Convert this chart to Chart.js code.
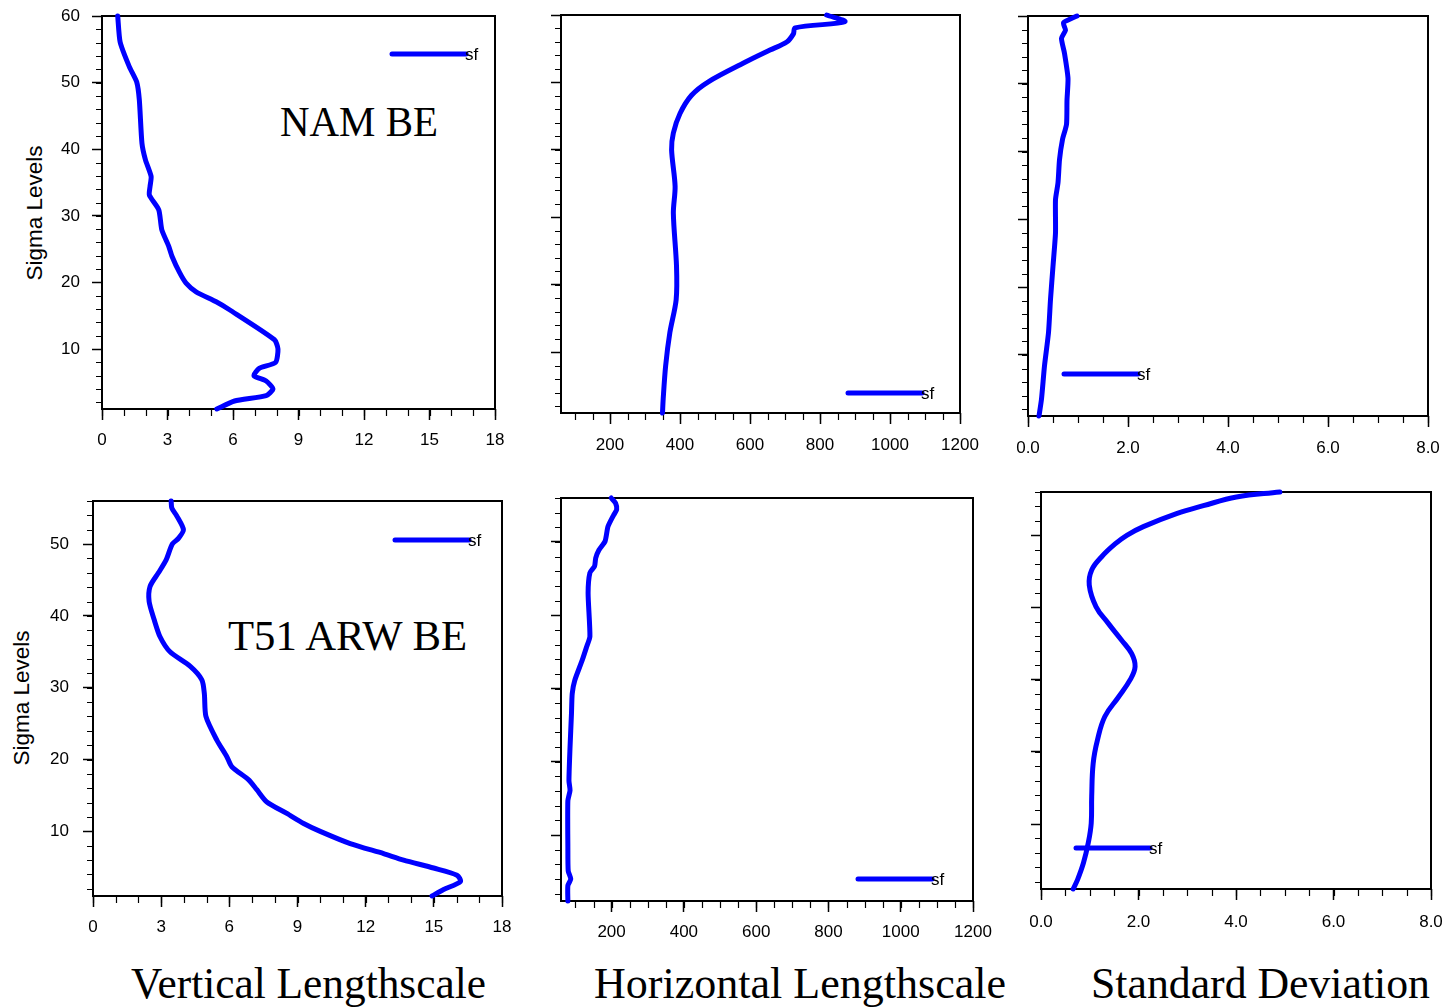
<!DOCTYPE html>
<html>
<head>
<meta charset="utf-8">
<script src="https://cdn.jsdelivr.net/npm/chart.js@4.4.1/dist/chart.umd.min.js"></script>
<style>
  html, body { margin: 0; padding: 0; background: #fff; }
  body { width: 1443px; height: 1008px; position: relative; overflow: hidden; }
  canvas { position: absolute; }
  .lbl { position: absolute; white-space: nowrap; color: #000; }
  .serif { font-family: "Liberation Serif", "DejaVu Serif", serif; line-height: 1; transform-origin: 0 0; }
  .axt { font-family: "Liberation Sans", Arial, sans-serif; font-size: 22.5px; line-height: 1; transform: translate(-50%, -50%) rotate(-90deg); }
</style>
</head>
<body>
<div class="lbl axt" style="left:35px; top:213px;">Sigma Levels</div>
<div class="lbl axt" style="left:22px; top:698px;">Sigma Levels</div>
<div class="lbl serif" id="t1" data-w="158" style="left:280px; top:100px; font-size:43px;">NAM BE</div>
<div class="lbl serif" id="t2" data-w="239" style="left:228px; top:614px; font-size:43px;">T51 ARW BE</div>
<div class="lbl serif" id="t3" data-w="355" style="left:131px; top:961px; font-size:45px;">Vertical Lengthscale</div>
<div class="lbl serif" id="t4" data-w="412" style="left:594px; top:961px; font-size:45px;">Horizontal Lengthscale</div>
<div class="lbl serif" id="t5" data-w="339" style="left:1091px; top:961px; font-size:45px;">Standard Deviation</div>
<script>
// ---------------- DATA ----------------
// NAM BE (top row)
const namVertLevels  = [60, 56.1, 52.4, 50.1, 47.4, 40.9, 38.4, 35.9, 34.4, 33.1, 30.9, 27.9, 25.5, 23.9, 21.5, 19.9, 18.6, 17.1, 15.9, 11.4, 10, 8, 7.1, 6, 5.2, 4, 3, 2.2, 1];
const namVertValues  = [0.72, 0.83, 1.25, 1.59, 1.71, 1.83, 1.99, 2.25, 2.2, 2.17, 2.6, 2.74, 3.05, 3.21, 3.55, 3.85, 4.31, 5.23, 5.84, 7.9, 8.06, 7.95, 7.2, 6.96, 7.52, 7.83, 7.52, 6.07, 5.26];

const namHorLevels   = [60, 59, 58.1, 57.2, 56, 54.8, 53.1, 50.1, 48.1, 45.4, 42.5, 40, 34.6, 30.6, 22.8, 17.8, 12.9, 8, 3.1, 1];
const namHorValues   = [819, 871, 729, 724, 705, 657, 590, 481, 433, 400, 381, 376, 386, 381, 390, 389, 371, 359, 352, 350];

const namStdLevels   = [60, 59, 57.9, 56.7, 54.5, 50.8, 47.6, 44, 41.8, 38.8, 35.4, 32.9, 28, 23.1, 18.2, 13.3, 8.4, 3.5, 1];
const namStdValues   = [0.98, 0.71, 0.75, 0.67, 0.73, 0.8, 0.78, 0.77, 0.69, 0.63, 0.6, 0.55, 0.55, 0.5, 0.45, 0.41, 0.33, 0.27, 0.22];

// T51 ARW BE (bottom row)
const arwVertLevels  = [56, 55, 53.9, 52, 50.8, 50, 47.8, 46, 44.1, 42, 39.5, 37.1, 35, 33, 31.1, 29.2, 26, 22.7, 20.4, 19, 17.2, 15.8, 14.1, 12.5, 11.1, 10, 8.3, 6.9, 6, 4.9, 3.9, 3, 1.9, 1];
const arwVertValues  = [3.44, 3.47, 3.69, 3.98, 3.76, 3.49, 3.22, 2.88, 2.51, 2.47, 2.69, 2.95, 3.39, 4.27, 4.79, 4.9, 4.97, 5.45, 5.89, 6.11, 6.84, 7.21, 7.65, 8.53, 9.27, 10.0, 11.32, 12.79, 13.67, 14.99, 16.02, 16.17, 15.43, 14.92];

const arwHorLevels   = [56, 55.3, 54.4, 53.7, 52.1, 50.1, 48.9, 47.8, 46.7, 45.8, 43, 37.1, 35.7, 33.9, 31.1, 29.3, 26.6, 22, 17.4, 16.1, 14.7, 8.3, 5.1, 4, 3.1, 1];
const arwHorValues   = [199, 211, 214, 206, 190, 182, 165, 156, 153, 140, 135, 140, 131, 119, 98, 91, 89, 85, 82, 85, 79, 79, 80, 87, 79, 79];

const arwStdLevels   = [56, 55.3, 54.1, 53, 51.2, 50, 48.8, 47, 45.2, 43.1, 40.1, 37.8, 35.5, 33.6, 31.8, 30, 27.6, 24.9, 21.7, 18.4, 13.8, 10.1, 7.4, 4.6, 2.3, 1];
const arwStdValues   = [4.9, 4.01, 3.33, 2.78, 2.1, 1.76, 1.52, 1.24, 1.04, 0.99, 1.13, 1.38, 1.65, 1.86, 1.93, 1.83, 1.59, 1.31, 1.16, 1.07, 1.04, 1.03, 0.97, 0.87, 0.75, 0.66];

// Tick labels
const vertTicks  = [0, 3, 6, 9, 12, 15, 18];
const horTicks   = [200, 400, 600, 800, 1000, 1200];
const stdTicks   = [0, 2, 4, 6, 8];
const levelTicks = [10, 20, 30, 40, 50, 60];

const seriesLabel = 'sf';

// ---------------- LAYOUT / STYLE ----------------
const panels = [
  { levels: namVertLevels, values: namVertValues, xTicks: vertTicks, xMin: 0,  xMax: 18,   xMinor: 1,   xFmt: v => String(v),    yMax: 60, box: [102, 16, 495, 409],  axisW: 102, yLabels: true,  yPad: 12, xPad: 10, tension: 0.2,  legend: [290, 38] },
  { levels: namHorLevels,  values: namHorValues,  xTicks: horTicks,  xMin: 60, xMax: 1200, xMinor: 50,  xFmt: v => String(v),    yMax: 60, box: [561, 15, 960, 413],  axisW: 45,  yLabels: false, yPad: 12, xPad: 11, tension: 0.3,  legend: [287, 378] },
  { levels: namStdLevels,  values: namStdValues,  xTicks: stdTicks,  xMin: 0,  xMax: 8,    xMinor: 0.5, xFmt: v => v.toFixed(1), yMax: 60, box: [1028, 16, 1428, 416], axisW: 45,  yLabels: false, yPad: 12, xPad: 11, tension: 0.2,  legend: [36, 358] },
  { levels: arwVertLevels, values: arwVertValues, xTicks: vertTicks, xMin: 0,  xMax: 18,   xMinor: 1,   xFmt: v => String(v),    yMax: 56, box: [93, 501, 502, 896],  axisW: 93,  yLabels: true,  yPad: 14, xPad: 10, tension: 0.25, legend: [302, 39] },
  { levels: arwHorLevels,  values: arwHorValues,  xTicks: horTicks,  xMin: 60, xMax: 1200, xMinor: 50,  xFmt: v => String(v),    yMax: 56, box: [561, 498, 973, 901], axisW: 45,  yLabels: false, yPad: 12, xPad: 10, tension: 0.2,  legend: [297, 381] },
  { levels: arwStdLevels,  values: arwStdValues,  xTicks: stdTicks,  xMin: 0,  xMax: 8,    xMinor: 0.5, xFmt: v => v.toFixed(1), yMax: 56, box: [1041, 492, 1431, 889], axisW: 45,  yLabels: false, yPad: 12, xPad: 12, tension: 0.4,  legend: [35, 356] }
];

const PAD_TOP = 14, PAD_R = 30, AXIS_H = 48;
const MAJOR_Y = 10, MAJOR_X = 11, MINOR_Y = 6, MINOR_X = 7;
const BLUE = '#0000ff';
const SANS = '"Liberation Sans", Arial, sans-serif';

const nclPlugin = {
  id: 'ncl',
  beforeDatasetsDraw(chart, args, opts) {
    const { ctx, chartArea: a, scales } = chart;
    const xs = scales.x, ys = scales.y;
    ctx.save();
    ctx.strokeStyle = '#000';
    ctx.lineWidth = 1.2;
    ctx.beginPath();
    // minor x ticks
    const xk0 = Math.ceil(xs.min / opts.xMinor - 1e-9), xk1 = Math.floor(xs.max / opts.xMinor + 1e-9);
    for (let k = xk0; k <= xk1; k++) {
      const v = k * opts.xMinor;
      const px = Math.round(xs.getPixelForValue(v)) + 0.5;
      ctx.moveTo(px, a.bottom);
      ctx.lineTo(px, a.bottom + MINOR_X);
    }
    // minor y ticks
    const yk0 = Math.ceil(ys.min / opts.yMinor - 1e-9), yk1 = Math.floor(ys.max / opts.yMinor + 1e-9);
    for (let k = yk0; k <= yk1; k++) {
      const v = k * opts.yMinor;
      const py = Math.round(ys.getPixelForValue(v)) + 0.5;
      ctx.moveTo(a.left, py);
      ctx.lineTo(a.left - MINOR_Y, py);
    }
    ctx.stroke();
    ctx.lineWidth = 2;
    ctx.strokeRect(a.left, a.top, a.right - a.left, a.bottom - a.top);
    ctx.restore();
  },
  afterDatasetsDraw(chart, args, opts) {
    const { ctx, chartArea: a } = chart;
    const ds = chart.data.datasets[0];
    const x0 = a.left + opts.legend[0], y0 = a.top + opts.legend[1];
    ctx.save();
    ctx.strokeStyle = ds.borderColor;
    ctx.lineWidth = 5;
    ctx.lineCap = 'round';
    ctx.beginPath();
    ctx.moveTo(x0, y0);
    ctx.lineTo(x0 + 74, y0);
    ctx.stroke();
    ctx.fillStyle = '#000';
    ctx.font = '17px ' + SANS;
    ctx.textBaseline = 'middle';
    ctx.textAlign = 'left';
    ctx.fillText(ds.label, x0 + 73, y0 + 1);
    ctx.restore();
  }
};

panels.forEach((p, i) => {
  const [L, T, R, B] = p.box;
  const cv = document.createElement('canvas');
  const w = p.axisW + (R - L) + PAD_R;
  const h = PAD_TOP + (B - T) + AXIS_H;
  cv.width = w; cv.height = h;
  cv.style.left = (L - p.axisW) + 'px';
  cv.style.top = (T - PAD_TOP) + 'px';
  cv.style.width = w + 'px'; cv.style.height = h + 'px';
  document.body.appendChild(cv);

  const yTicks = levelTicks.filter(v => v <= p.yMax);

  new Chart(cv, {
    type: 'scatter',
    data: {
      datasets: [{
        label: seriesLabel,
        data: p.levels.map((l, k) => ({ x: p.values[k], y: l })),
        showLine: true,
        pointRadius: 0,
        borderColor: BLUE,
        borderWidth: 5,
        borderJoinStyle: 'round',
        borderCapStyle: 'round',
        tension: p.tension,
        clip: false
      }]
    },
    options: {
      responsive: false,
      animation: false,
      devicePixelRatio: 1,
      layout: { padding: { left: 0, top: PAD_TOP, right: PAD_R, bottom: 0 } },
      plugins: {
        legend: { display: false },
        tooltip: { enabled: false },
        ncl: { xMinor: p.xMinor, yMinor: 2, legend: p.legend }
      },
      scales: {
        x: {
          type: 'linear',
          position: 'bottom',
          min: p.xMin, max: p.xMax,
          afterBuildTicks: s => { s.ticks = p.xTicks.map(v => ({ value: v })); },
          afterFit: s => { s.height = AXIS_H; s.paddingLeft = 0; s.paddingRight = 0; },
          border: { display: false },
          grid: { drawOnChartArea: false, drawTicks: true, tickLength: MAJOR_X, tickColor: '#000', tickWidth: 1.5 },
          ticks: { color: '#000', font: { family: SANS, size: 17 }, padding: p.xPad, maxRotation: 0, autoSkip: false, callback: v => p.xFmt(v) }
        },
        y: {
          type: 'linear',
          position: 'left',
          min: 1, max: p.yMax,
          afterBuildTicks: s => { s.ticks = yTicks.map(v => ({ value: v })); },
          afterFit: s => { s.width = p.axisW; s.paddingTop = 0; s.paddingBottom = 0; },
          border: { display: false },
          grid: { drawOnChartArea: false, drawTicks: true, tickLength: MAJOR_Y, tickColor: '#000', tickWidth: 1.5 },
          ticks: { display: p.yLabels, color: '#000', font: { family: SANS, size: 17 }, padding: p.yPad, autoSkip: false, callback: v => String(v) }
        }
      }
    },
    plugins: [nclPlugin]
  });
});

// fit serif titles to measured widths
function fitTitles() {
  document.querySelectorAll('.serif').forEach(el => {
    el.style.transform = 'none';
    const target = parseFloat(el.dataset.w);
    const cur = el.getBoundingClientRect().width;
    if (cur > 0) el.style.transform = 'scaleX(' + (target / cur) + ')';
  });
}
fitTitles();
</script>
</body>
</html>
